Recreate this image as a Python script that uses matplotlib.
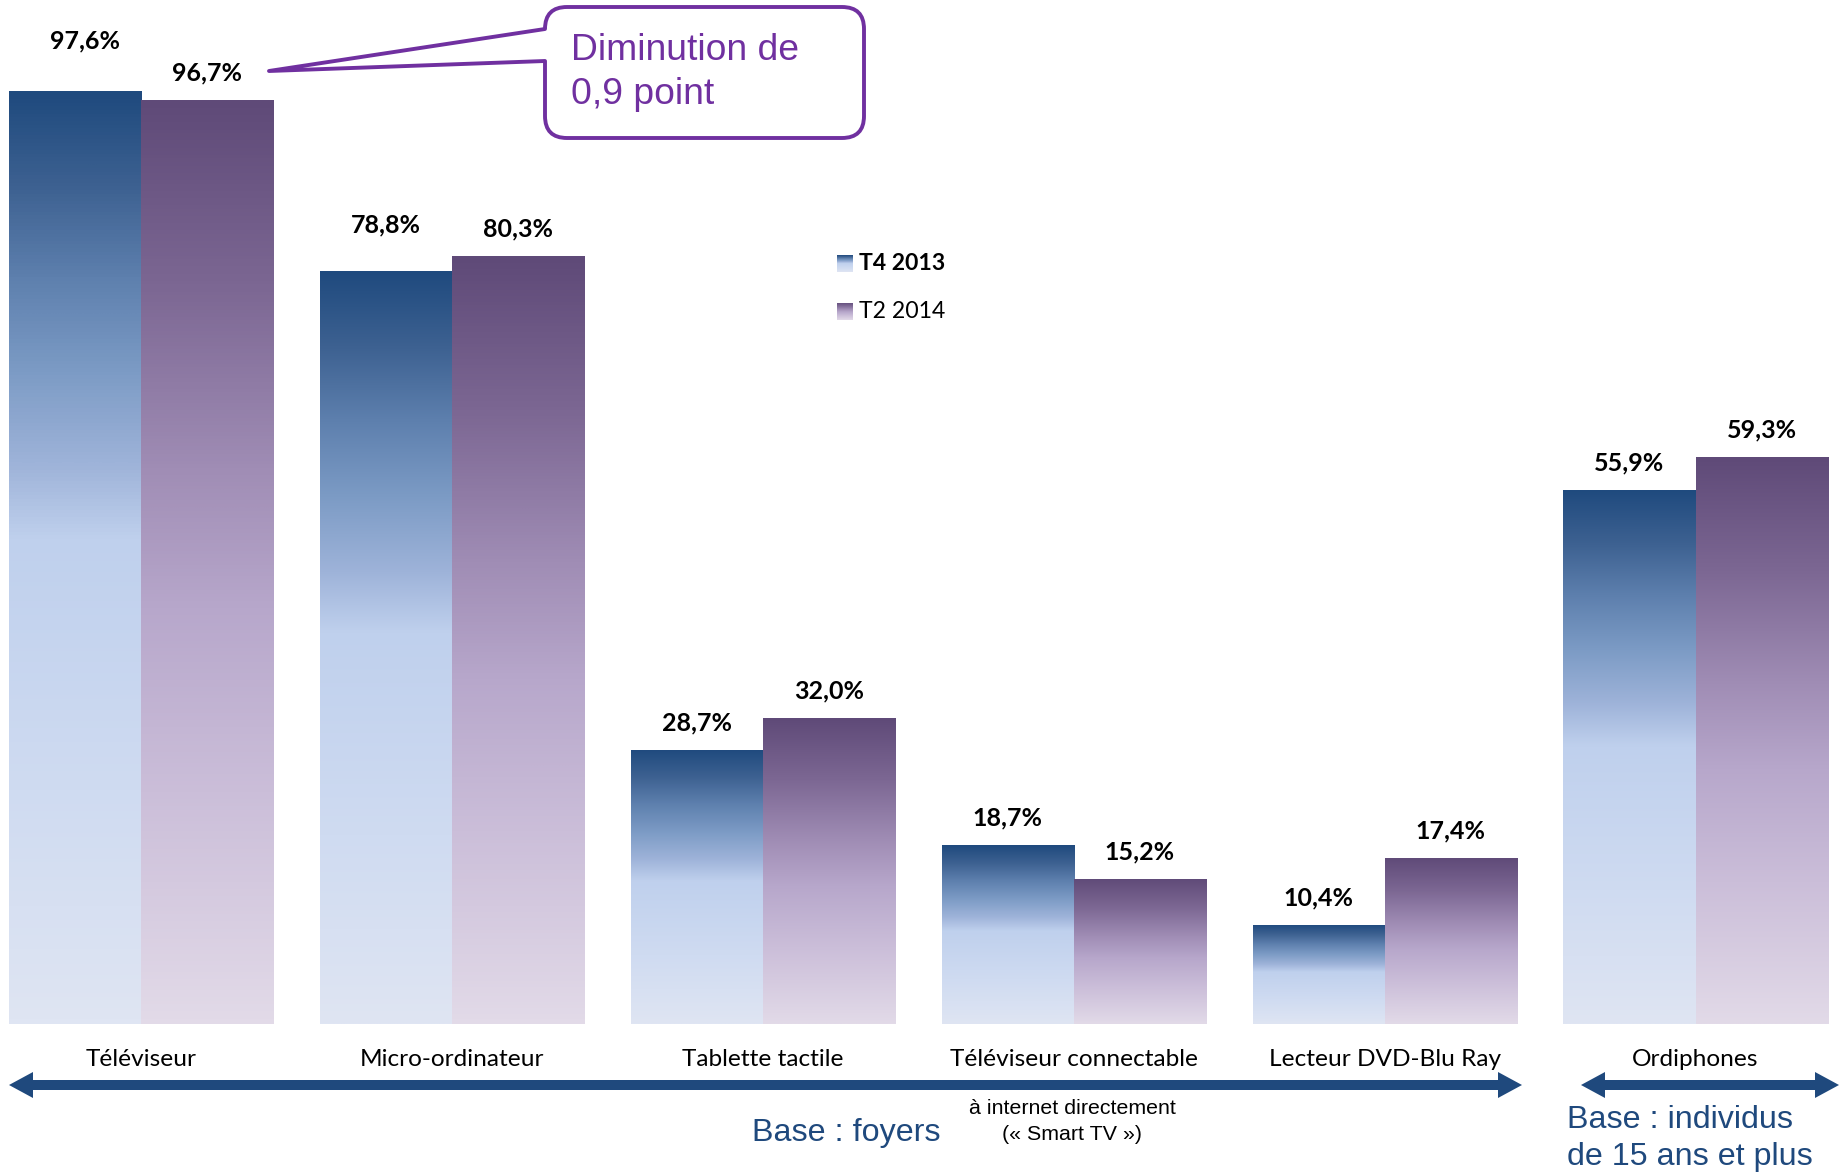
import numpy as np
import matplotlib
matplotlib.use("Agg")
import matplotlib.pyplot as plt
from matplotlib.colors import LinearSegmentedColormap
from matplotlib.path import Path
from matplotlib.patches import PathPatch, Polygon

# ---------------- data ----------------
categories = ["Téléviseur", "Micro-ordinateur", "Tablette tactile",
              "Téléviseur connectable", "Lecteur DVD-Blu Ray", "Ordiphones"]
series_names = ["T4 2013", "T2 2014"]
t4_2013 = [97.6, 78.8, 28.7, 18.7, 10.4, 55.9]
t2_2014 = [96.7, 80.3, 32.0, 15.2, 17.4, 59.3]

W, H = 1845, 1172
fig = plt.figure(figsize=(W / 100, H / 100), dpi=100)
fig.patch.set_facecolor("white")

def fx(x):
    return x / W

def fy(y):
    return 1 - y / H

ax = fig.add_axes([0.0007, 0.1262, 0.9941, 0.8157])
ax.set_axis_off()

blue_cmap = LinearSegmentedColormap.from_list(
    "b", [(0, "#1F4A7E"), (0.1, "#3D6191"), (0.2, "#5E80AE"), (0.3, "#7C9BC5"),
          (0.4, "#9EB3D9"), (0.48, "#BFD0ED"), (0.75, "#CFDBF1"),
          (1.0, "#DFE5F3")])
purple_cmap = LinearSegmentedColormap.from_list(
    "p", [(0, "#5F4A78"), (0.2, "#7C6793"), (0.4, "#A08DB5"),
          (0.55, "#B7A7CB"), (0.75, "#CBBED9"), (1.0, "#E2DAE8")])

grad = np.linspace(0, 1, 256).reshape(-1, 1)

x = np.arange(len(categories))
bw = 0.425
bars1 = ax.bar(x - bw / 2, t4_2013, width=bw, color="none", edgecolor="none")
bars2 = ax.bar(x + bw / 2, t2_2014, width=bw, color="none", edgecolor="none")

for bars, cmap in ((bars1, blue_cmap), (bars2, purple_cmap)):
    for r in bars:
        x0, w, h = r.get_x(), r.get_width(), r.get_height()
        im = ax.imshow(grad, cmap=cmap, extent=[x0, x0 + w, 0, h],
                       aspect="auto", origin="upper", zorder=2,
                       interpolation="bilinear")
        im.set_clip_path(r)

ax.set_xlim(-0.45, 5.45)
ax.set_ylim(0, 100)

label_font = dict(family="Lato", fontsize=18, fontweight="bold", color="black")
# label offsets (points): (dx, dy)
off1 = [(7.2, 36.4), (0, 33), (0, 19.5), (0, 19.5), (0, 19.5), (0, 19.5)]
off2 = [(0, 19.5)] * 6
for bars, vals, offs in ((bars1, t4_2013, off1), (bars2, t2_2014, off2)):
    for r, v, o in zip(bars, vals, offs):
        ax.annotate(f"{v:.1f}%".replace(".", ","),
                    xy=(r.get_x() + r.get_width() / 2, v),
                    xytext=o, textcoords="offset points",
                    ha="center", va="center", **label_font)

# category labels
for xi, c in zip(x, categories):
    ax.text(xi, -0.037, c, transform=ax.get_xaxis_transform(),
            ha="center", va="center", family="Lato", fontsize=17.6,
            color="black")

# ---------------- double arrows ----------------
arrow_col = "#1F497D"
def double_arrow(x0, x1, yc, th=10, hw=13, hl=24):
    pts = [(x0, yc), (x0 + hl, yc - hw), (x0 + hl, yc - th / 2),
           (x1 - hl, yc - th / 2), (x1 - hl, yc - hw), (x1, yc),
           (x1 - hl, yc + hw), (x1 - hl, yc + th / 2),
           (x0 + hl, yc + th / 2), (x0 + hl, yc + hw)]
    pts = [(fx(a), fy(b)) for a, b in pts]
    fig.patches.append(Polygon(pts, closed=True, transform=fig.transFigure,
                               facecolor=arrow_col, edgecolor="none"))

double_arrow(9, 1522, 1085)
double_arrow(1581, 1839, 1085)

base_col = "#1F497D"
fig.text(fx(846), fy(1133), "Base : foyers", ha="center", va="center",
         family="Liberation Sans", fontsize=23.2, color=base_col)
fig.text(fx(1072), fy(1108.5), "à internet directement", ha="center",
         va="center", family="Liberation Sans", fontsize=15.4, color="black")
fig.text(fx(1072), fy(1134.5), "(« Smart TV »)", ha="center",
         va="center", family="Liberation Sans", fontsize=15.4, color="black")
fig.text(fx(1567), fy(1119.5), "Base : individus", ha="left", va="center",
         family="Liberation Sans", fontsize=23.2, color=base_col)
fig.text(fx(1567), fy(1157.5), "de 15 ans et plus", ha="left", va="center",
         family="Liberation Sans", fontsize=23.2, color=base_col)

# ---------------- legend ----------------
leg_cmaps = [blue_cmap, purple_cmap]
leg_y = [263.5, 312]
leg_weights = ["bold", "normal"]
for name, cm, yc, wt in zip(series_names, leg_cmaps, leg_y, leg_weights):
    lax = fig.add_axes([fx(837), fy(yc + 8.5), 16 / W, 17 / H])
    lax.imshow(grad, cmap=cm, aspect="auto", extent=[0, 1, 0, 1])
    lax.set_axis_off()
    fig.text(fx(859), fy(yc), name, ha="left", va="center", family="Lato",
             fontsize=16.6, fontweight=wt, color="black")

# ---------------- callout ----------------
pc = "#7030A0"
x0, x1, y0, y1, r = 545, 864, 7, 138, 22
wt_, wb_ = 29, 61
tip = (269, 71)
verts = [(x0, wt_), (x0, y0 + r), (x0, y0), (x0 + r, y0), (x1 - r, y0),
         (x1, y0), (x1, y0 + r), (x1, y1 - r), (x1, y1), (x1 - r, y1),
         (x0 + r, y1), (x0, y1), (x0, y1 - r), (x0, wb_), tip, (x0, wt_)]
codes = [Path.MOVETO, Path.LINETO, Path.CURVE3, Path.CURVE3, Path.LINETO,
         Path.CURVE3, Path.CURVE3, Path.LINETO, Path.CURVE3, Path.CURVE3,
         Path.LINETO, Path.CURVE3, Path.CURVE3, Path.LINETO, Path.LINETO,
         Path.CLOSEPOLY]
verts = [(fx(a), fy(b)) for a, b in verts]
fig.patches.append(PathPatch(Path(verts, codes), transform=fig.transFigure,
                             facecolor="white", edgecolor=pc, linewidth=2.8,
                             joinstyle="round"))
fig.text(fx(571), fy(50.5), "Diminution de", ha="left", va="center",
         family="Liberation Sans", fontsize=26.8, color=pc)
fig.text(fx(571), fy(94), "0,9 point", ha="left", va="center",
         family="Liberation Sans", fontsize=26.8, color=pc)

fig.savefig("out.png", dpi=100, facecolor="white")
